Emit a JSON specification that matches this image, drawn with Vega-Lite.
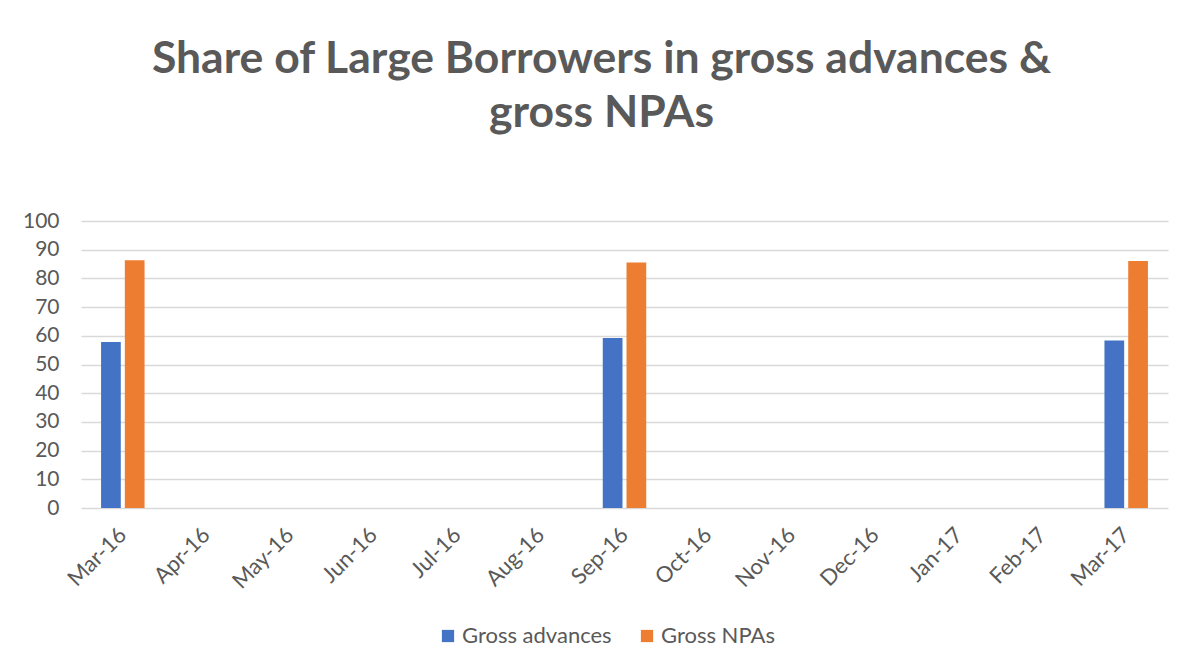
{
  "$schema": "https://vega.github.io/schema/vega-lite/v6.json",
  "width": 1087,
  "height": 287,
  "autosize": {"type": "none"},
  "padding": {"left": 81, "top": 221, "right": 28, "bottom": 164},
  "background": "white",
  "title": {
    "text": ["Share of Large Borrowers in gross advances &", "gross NPAs"],
    "font": "Lato",
    "fontSize": 44.5,
    "fontWeight": "bold",
    "color": "#595959",
    "anchor": "middle",
    "dx": -23,
    "offset": 74,
    "lineHeight": 54
  },
  "data": {
    "values": [
      {"month": "Mar-16", "series": "Gross advances", "value": 57.8},
      {"month": "Mar-16", "series": "Gross NPAs", "value": 86.3},
      {"month": "Sep-16", "series": "Gross advances", "value": 59.2},
      {"month": "Sep-16", "series": "Gross NPAs", "value": 85.5},
      {"month": "Mar-17", "series": "Gross advances", "value": 58.4},
      {"month": "Mar-17", "series": "Gross NPAs", "value": 86.1}
    ]
  },
  "mark": {"type": "bar"},
  "encoding": {
    "x": {
      "field": "month",
      "type": "nominal",
      "scale": {
        "domain": ["Mar-16", "Apr-16", "May-16", "Jun-16", "Jul-16", "Aug-16", "Sep-16", "Oct-16", "Nov-16", "Dec-16", "Jan-17", "Feb-17", "Mar-17"],
        "paddingInner": 0.48,
        "paddingOuter": 0.24
      },
      "axis": {
        "title": null,
        "labelAngle": -45,
        "labelAlign": "right",
        "labelBaseline": "middle",
        "labelFont": "Lato",
        "labelFontSize": 22,
        "labelColor": "#595959",
        "labelPadding": 23,
        "ticks": false,
        "domain": false,
        "grid": false
      }
    },
    "xOffset": {
      "field": "series",
      "type": "nominal",
      "scale": {"domain": ["Gross advances", "Gross NPAs"], "paddingInner": 0.17, "paddingOuter": 0}
    },
    "y": {
      "field": "value",
      "type": "quantitative",
      "scale": {"domain": [0, 100], "nice": false},
      "axis": {
        "title": null,
        "values": [0, 10, 20, 30, 40, 50, 60, 70, 80, 90, 100],
        "labelFont": "Lato",
        "labelFontSize": 21,
        "labelColor": "#595959",
        "labelPadding": 22,
        "ticks": false,
        "domain": false,
        "grid": true,
        "gridColor": "#D9D9D9",
        "gridWidth": 1.5
      }
    },
    "color": {
      "field": "series",
      "type": "nominal",
      "scale": {"domain": ["Gross advances", "Gross NPAs"], "range": ["#4472C4", "#ED7D31"]},
      "legend": {
        "title": null,
        "orient": "none",
        "legendX": 356,
        "legendY": 404,
        "direction": "horizontal",
        "symbolType": "square",
        "symbolSize": 150,
        "symbolStrokeWidth": 0,
        "labelFont": "Lato",
        "labelFontSize": 22,
        "labelColor": "#595959",
        "columnPadding": 24,
        "labelOffset": 3
      }
    }
  },
  "config": {"view": {"stroke": null}}
}
